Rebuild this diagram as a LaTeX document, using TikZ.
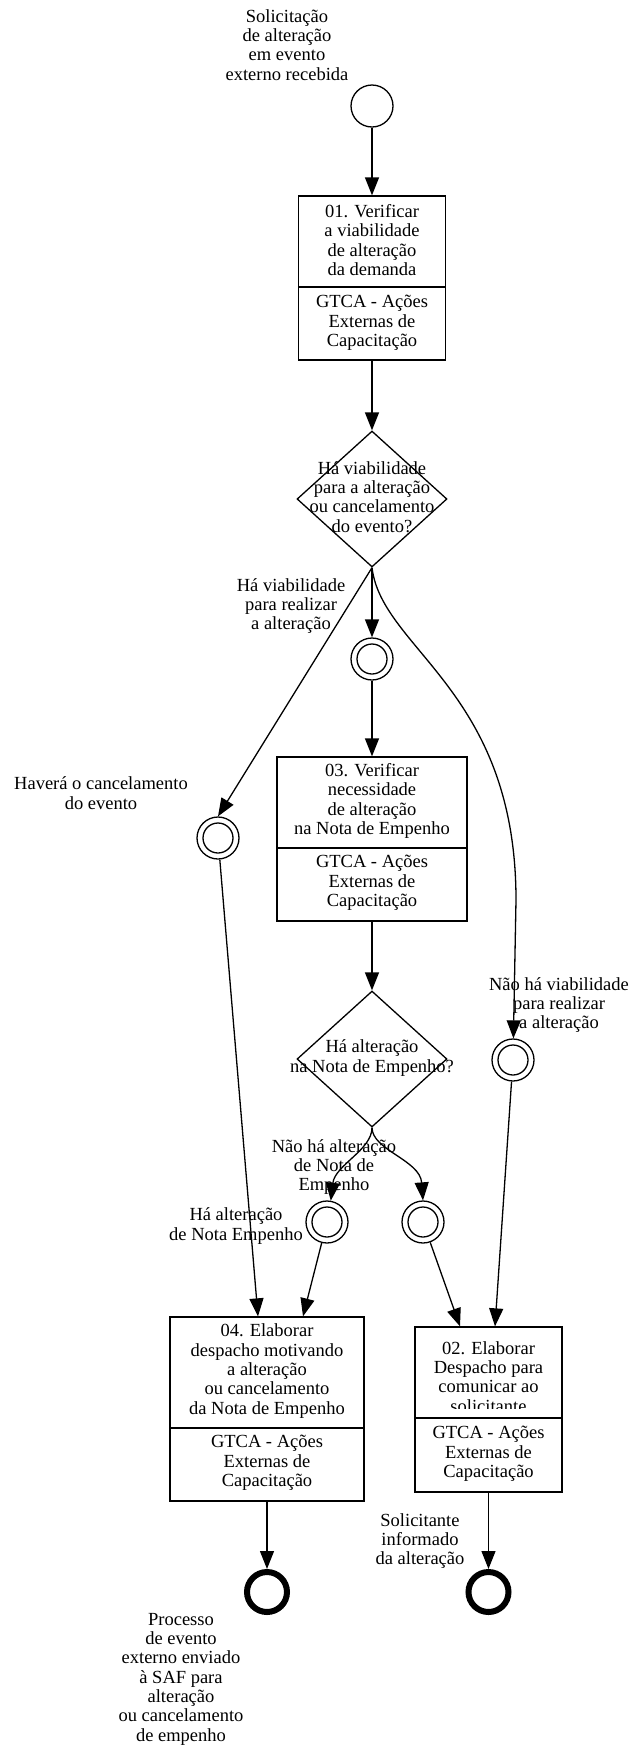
\documentclass[tikz,border=0pt]{standalone}
\usepackage{fontspec}
\setmainfont{Liberation Serif}
\usetikzlibrary{arrows.meta,shapes.geometric}

\begin{document}
\begin{tikzpicture}[x=1pt,y=-1pt,line width=1.3pt,
    >={Triangle[length=18pt,width=14pt]},
    txt/.style={align=center,inner sep=0pt,font=\fontsize{18.5}{19.3}\selectfont},
    taskbox/.style={draw,rectangle,inner sep=0pt},
    gate/.style={draw,diamond,inner sep=0pt,minimum width=150pt,minimum height=136pt},
    evstart/.style={draw,circle,inner sep=0pt,minimum size=42pt},
    evmid/.style={draw,circle,inner sep=0pt,minimum size=42pt},
    evend/.style={draw,circle,inner sep=0pt,minimum size=40pt,line width=6pt}]
    \useasboundingbox (0,0) rectangle (630,1746);

    % Events
    \node[evstart] (start) at (372,106) {};
    \node[evmid] (m1) at (372,659) {};
    \node[evmid] (m2) at (218,838) {};
    \node[evmid] (m3) at (513,1060) {};
    \node[evmid] (m4) at (327,1222) {};
    \node[evmid] (m5) at (423,1222) {};
    \foreach \n in {m1,m2,m3,m4,m5}{
        \draw (\n.center) circle (15);
    }
    \node[evend] (e1) at (267,1592) {};
    \node[evend] (e2) at (488.5,1592) {};

    % Tasks
    \node[taskbox,minimum width=147pt,minimum height=164pt] (t01) at (372,278) {};
    \draw (t01.west |- 0,287) -- (t01.east |- 0,287);
    \node[txt] (t01a) at (372,240) {01. Verificar\\a viabilidade\\de alteração\\da demanda};
    \node[txt] (t01b) at (372,323) {GTCA - Ações\\Externas de\\Capacitação};

    \node[taskbox,minimum width=190pt,minimum height=164pt] (t03) at (372,839) {};
    \draw (t03.west |- 0,848) -- (t03.east |- 0,848);
    \node[txt] (t03a) at (372,801) {03. Verificar\\necessidade\\de alteração\\na Nota de Empenho};
    \node[txt] (t03b) at (372,883) {GTCA - Ações\\Externas de\\Capacitação};

    \node[taskbox,minimum width=194pt,minimum height=184pt] (t04) at (267,1409) {};
    \draw (t04.west |- 0,1428) -- (t04.east |- 0,1428);
    \node[txt] (t04a) at (267,1371) {04. Elaborar\\despacho motivando\\a alteração\\ou cancelamento\\da Nota de Empenho};
    \node[txt] (t04b) at (267,1463) {GTCA - Ações\\Externas de\\Capacitação};

    \node[taskbox,minimum width=147pt,minimum height=165pt] (t02) at (488.5,1409.5) {};
    \draw (t02.west |- 0,1418) -- (t02.east |- 0,1418);
    \begin{scope}
        \clip (416,1328) rectangle (561,1408);
        \node[txt] (t02a) at (488.5,1377) {02. Elaborar\\Despacho para\\comunicar ao\\solicitante};
    \end{scope}
    \node[txt] (t02b) at (488.5,1454) {GTCA - Ações\\Externas de\\Capacitação};

    % Gateways
    \node[gate] (g1) at (372,499) {};
    \node[txt] (g1t) at (372,497) {Há viabilidade\\para a alteração\\ou cancelamento\\do evento?};
    \node[gate] (g2) at (372,1059) {};
    \node[txt] (g2t) at (372,1058) {Há alteração\\na Nota de Empenho?};

    % Labels
    \node[txt] (lstart) at (287,45) {Solicitação\\de alteração\\em evento\\externo recebida};
    \node[txt] (lm1) at (291,606) {Há viabilidade\\para realizar\\a alteração};
    \node[txt] (lm2) at (101,793) {Haverá o cancelamento\\do evento};
    \node[txt] (lm3) at (559,1005) {Não há viabilidade\\para realizar\\a alteração};
    \node[txt] (lm4) at (334,1167) {Não há alteração\\de Nota de\\Empenho};
    \node[txt] (lm5) at (236,1226) {Há alteração\\de Nota Empenho};
    \node[txt] (le1) at (181,1679) {Processo\\de evento\\externo enviado\\à SAF para\\alteração\\ou cancelamento\\de empenho};
    \node[txt] (le2) at (420,1541) {Solicitante\\informado\\da alteração};

    % Flows
    \draw[->] (start) -- (t01);
    \draw[->] (t01) -- (g1);
    \draw[->] (g1.south) -- (m1);
    \draw[->] (g1.south) -- (m2.north);
    \draw[->] (g1.south) .. controls (382,650) and (516,690) .. (516,900) -- (m3);
    \draw[->] (m1) -- (t03);
    \draw[->] (t03) -- (g2);
    \draw[->] (g2.south) .. controls (372,1150) and (335,1165) .. (m4.80);
    \draw[->] (g2.south) .. controls (372,1150) and (420,1160) .. (m5.north);
    \draw[->] (m2) -- ([xshift=-9pt]t04.north);
    \draw[->] (m4) -- ([xshift=36pt]t04.north);
    \draw[->] (m5) -- ([xshift=-28.5pt]t02.north);
    \draw[->] (m3) -- ([xshift=6.5pt]t02.north);
    \draw[->] (t04) -- (e1);
    \draw[->] (t02) -- (e2);
\end{tikzpicture}
\end{document}
